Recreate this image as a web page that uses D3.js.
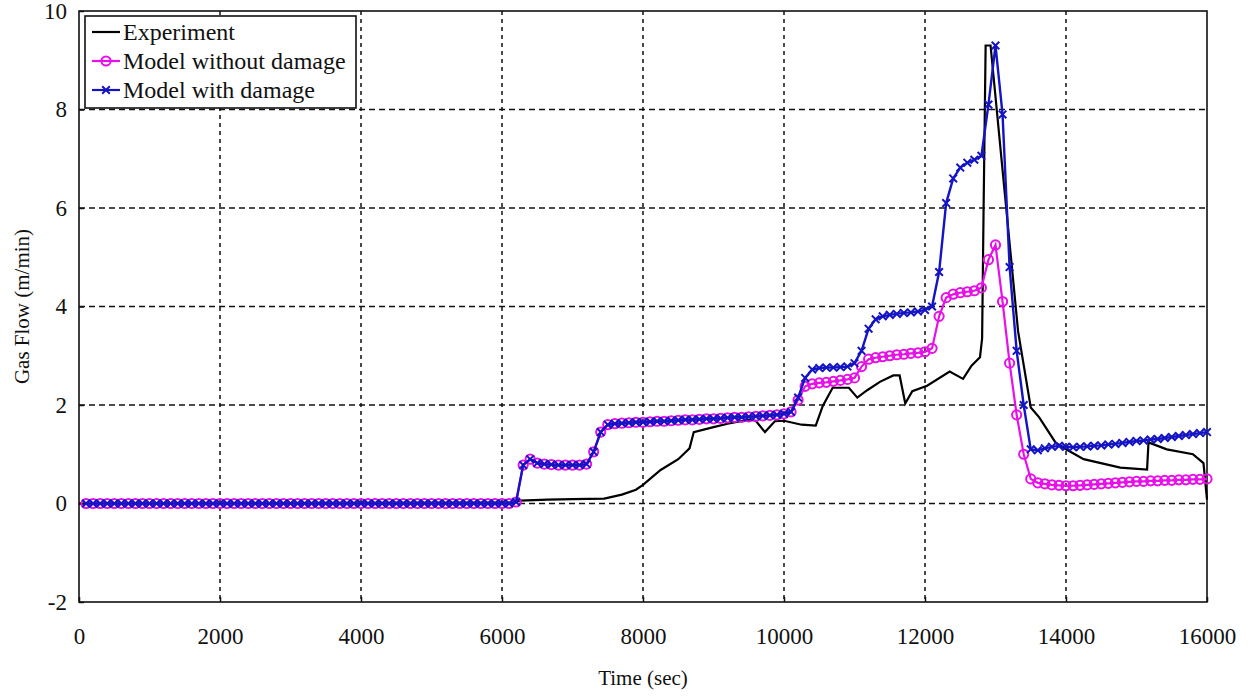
<!DOCTYPE html>
<html>
<head>
<meta charset="utf-8">
<script src="https://cdn.jsdelivr.net/npm/d3@7"></script>
<style>
  html, body { margin: 0; padding: 0; background: #fff; }
  svg { display: block; }
  text { font-family: "Liberation Serif", "Times New Roman", serif; fill: #111; }
</style>
</head>
<body>
<svg id="chart" width="1250" height="696"></svg>
<script>
// Axis ticks
const xTicks = [0, 2000, 4000, 6000, 8000, 10000, 12000, 14000, 16000];
const yTicks = [-2, 0, 2, 4, 6, 8, 10];

// Measured gas flow (time, value)
const expTime = [0, 6200, 6250, 6650, 7000, 7450, 7700, 7900, 8000, 8250, 8500, 8660, 8720, 9000, 9200, 9500, 9600, 9730, 9870, 10000,
  10250, 10450, 10550, 10690, 10920, 11040, 11180, 11360, 11550, 11640, 11720, 11820, 12030, 12350, 12540, 12660, 12780, 12810, 12830, 12860,
  12930, 13320, 13500, 13620, 13850, 14000, 14250, 14770, 15150, 15170, 15430, 15800, 15950, 16000];
const expValue = [0, 0.02, 0.06, 0.08, 0.09, 0.1, 0.18, 0.28, 0.38, 0.68, 0.9, 1.12, 1.45, 1.55, 1.62, 1.7, 1.68, 1.45, 1.67, 1.68,
  1.6, 1.58, 1.98, 2.35, 2.35, 2.15, 2.3, 2.47, 2.6, 2.6, 2.03, 2.28, 2.39, 2.68, 2.53, 2.8, 2.97, 3.35, 5.85, 9.3,
  9.3, 3.5, 1.95, 1.75, 1.24, 1.1, 0.9, 0.73, 0.69, 1.24, 1.1, 1.0, 0.82, 0.08];

// Model sample times (sec)
const modelTime = [
  100, 200, 300, 400, 500, 600, 700, 800, 900, 1000, 1100, 1200, 1300, 1400, 1500, 1600, 1700, 1800, 1900, 2000,
  2100, 2200, 2300, 2400, 2500, 2600, 2700, 2800, 2900, 3000, 3100, 3200, 3300, 3400, 3500, 3600, 3700, 3800, 3900, 4000,
  4100, 4200, 4300, 4400, 4500, 4600, 4700, 4800, 4900, 5000, 5100, 5200, 5300, 5400, 5500, 5600, 5700, 5800, 5900, 6000,
  6100, 6200, 6300, 6400, 6500, 6600, 6700, 6800, 6900, 7000, 7100, 7200, 7300, 7400, 7500, 7600, 7700, 7800, 7900, 8000,
  8100, 8200, 8300, 8400, 8500, 8600, 8700, 8800, 8900, 9000, 9100, 9200, 9300, 9400, 9500, 9600, 9700, 9800, 9900, 10000,
  10100, 10200, 10300, 10400, 10500, 10600, 10700, 10800, 10900, 11000, 11100, 11200, 11300, 11400, 11500, 11600, 11700, 11800, 11900, 12000,
  12100, 12200, 12300, 12400, 12500, 12600, 12700, 12800, 12900, 13000, 13100, 13200, 13300, 13400, 13500, 13600, 13700, 13800, 13900, 14000,
  14100, 14200, 14300, 14400, 14500, 14600, 14700, 14800, 14900, 15000, 15100, 15200, 15300, 15400, 15500, 15600, 15700, 15800, 15900, 16000];

// Model without damage
const noDamage = [
  0, 0, 0, 0, 0, 0, 0, 0, 0, 0, 0, 0, 0, 0, 0, 0, 0, 0, 0, 0,
  0, 0, 0, 0, 0, 0, 0, 0, 0, 0, 0, 0, 0, 0, 0, 0, 0, 0, 0, 0,
  0, 0, 0, 0, 0, 0, 0, 0, 0, 0, 0, 0, 0, 0, 0, 0, 0, 0, 0, 0,
  0, 0.03, 0.78, 0.9, 0.82, 0.8, 0.79, 0.78, 0.78, 0.78, 0.78, 0.8, 1.05, 1.45, 1.6, 1.62, 1.63, 1.64, 1.65, 1.65,
  1.66, 1.67, 1.67, 1.68, 1.69, 1.7, 1.7, 1.71, 1.72, 1.72, 1.73, 1.74, 1.75, 1.75, 1.76, 1.77, 1.78, 1.79, 1.8, 1.82,
  1.86, 2.1, 2.38, 2.43, 2.45, 2.46, 2.48, 2.5, 2.52, 2.55, 2.78, 2.93, 2.96, 2.98, 3.0, 3.02, 3.03, 3.05, 3.06, 3.08,
  3.15, 3.8, 4.18, 4.25, 4.28, 4.3, 4.32, 4.38, 4.95, 5.25, 4.1, 2.85, 1.8, 1.0, 0.5, 0.42, 0.4, 0.38, 0.37, 0.36,
  0.36, 0.37, 0.38, 0.39, 0.4, 0.41, 0.42, 0.43, 0.44, 0.45, 0.45, 0.46, 0.46, 0.47, 0.47, 0.48, 0.48, 0.49, 0.49, 0.5];

// Model with damage
const withDamage = [
  0, 0, 0, 0, 0, 0, 0, 0, 0, 0, 0, 0, 0, 0, 0, 0, 0, 0, 0, 0,
  0, 0, 0, 0, 0, 0, 0, 0, 0, 0, 0, 0, 0, 0, 0, 0, 0, 0, 0, 0,
  0, 0, 0, 0, 0, 0, 0, 0, 0, 0, 0, 0, 0, 0, 0, 0, 0, 0, 0, 0,
  0, 0.03, 0.78, 0.9, 0.82, 0.8, 0.79, 0.78, 0.78, 0.78, 0.78, 0.8, 1.05, 1.45, 1.6, 1.62, 1.63, 1.64, 1.65, 1.65,
  1.66, 1.67, 1.67, 1.68, 1.69, 1.7, 1.7, 1.71, 1.72, 1.72, 1.73, 1.74, 1.75, 1.75, 1.76, 1.77, 1.78, 1.79, 1.8, 1.82,
  1.86, 2.15, 2.55, 2.72, 2.75, 2.76, 2.76, 2.77, 2.78, 2.85, 3.1, 3.55, 3.74, 3.8, 3.83, 3.85, 3.87, 3.88, 3.9, 3.93,
  4.0, 4.7, 6.1, 6.6, 6.82, 6.92, 6.98, 7.06, 8.1, 9.3, 7.9, 4.8, 3.1, 2.0, 1.1, 1.08, 1.12, 1.15, 1.17, 1.15,
  1.14, 1.15, 1.16, 1.17, 1.18, 1.2, 1.21, 1.23, 1.25, 1.27, 1.28, 1.3, 1.31, 1.33, 1.35, 1.37, 1.39, 1.41, 1.43, 1.45];

const legendLabels = ["Experiment", "Model without damage", "Model with damage"];
const colors = { exp: "#000000", noDamage: "#e810e8", withDamage: "#1414c4" };

const svg = d3.select("#chart");
const plot = { left: 79, right: 1207, top: 11, bottom: 602 };

const x = d3.scaleLinear().domain([0, 16000]).range([plot.left, plot.right]);
const y = d3.scaleLinear().domain([-2, 10]).range([plot.bottom, plot.top]);

// Dashed grid
const grid = svg.append("g");
grid.selectAll("line.vg").data(xTicks.slice(1, -1)).join("line")
  .attr("x1", d => x(d)).attr("x2", d => x(d))
  .attr("y1", plot.top).attr("y2", plot.bottom)
  .attr("stroke", "#111").attr("stroke-width", 1.5).attr("stroke-dasharray", "4,4");
grid.selectAll("line.hg").data(yTicks.slice(1, -1)).join("line")
  .attr("x1", plot.left).attr("x2", plot.right)
  .attr("y1", d => y(d)).attr("y2", d => y(d))
  .attr("stroke", "#111").attr("stroke-width", 1.5).attr("stroke-dasharray", "6,4");

// Axes with inward ticks; plain hyphen for negative labels
const fmt = d => String(d);
const xAxis = d3.axisBottom(x).tickValues(xTicks).tickSize(-5).tickPadding(26).tickFormat(fmt);
const yAxis = d3.axisLeft(y).tickValues(yTicks).tickSize(-5).tickPadding(12).tickFormat(fmt);

const gx = svg.append("g").attr("transform", `translate(0,${plot.bottom})`).call(xAxis);
const gy = svg.append("g").attr("transform", `translate(${plot.left},0)`).call(yAxis);
[gx, gy].forEach(g => {
  g.select(".domain").remove();
  g.selectAll(".tick line").attr("stroke", "#111").attr("stroke-width", 1.5);
  g.selectAll(".tick text").attr("font-family", "Liberation Serif, serif").attr("font-size", 23).attr("fill", "#111");
});

// Frame
svg.append("rect")
  .attr("x", plot.left).attr("y", plot.top)
  .attr("width", plot.right - plot.left).attr("height", plot.bottom - plot.top)
  .attr("fill", "none").attr("stroke", "#111").attr("stroke-width", 1.6);

// Axis titles
svg.append("text").attr("x", (plot.left + plot.right) / 2).attr("y", 685)
  .attr("text-anchor", "middle").attr("font-size", 21).text("Time (sec)");
svg.append("text")
  .attr("transform", `translate(29,${(plot.top + plot.bottom) / 2}) rotate(-90)`)
  .attr("text-anchor", "middle").attr("font-size", 21).text("Gas Flow (m/min)");

// Series
const marks = svg.append("g");
const line = d3.line().x(d => x(d[0])).y(d => y(d[1]));

const expPts = expTime.map((t, i) => [t, expValue[i]]);
const noDmgPts = modelTime.map((t, i) => [t, noDamage[i]]);
const dmgPts = modelTime.map((t, i) => [t, withDamage[i]]);

marks.append("path").datum(expPts).attr("d", line)
  .attr("fill", "none").attr("stroke", colors.exp).attr("stroke-width", 2.2);

const circleR = 4.6;
marks.append("path").datum(noDmgPts).attr("d", line)
  .attr("fill", "none").attr("stroke", colors.noDamage).attr("stroke-width", 2.2);
marks.selectAll("circle.nd").data(noDmgPts).join("circle")
  .attr("cx", d => x(d[0])).attr("cy", d => y(d[1])).attr("r", circleR)
  .attr("fill", "none").attr("stroke", colors.noDamage).attr("stroke-width", 2);

const cross = 3.8;
const crossPath = (cx, cy) =>
  `M${cx - cross},${cy - cross}L${cx + cross},${cy + cross}M${cx - cross},${cy + cross}L${cx + cross},${cy - cross}`;
marks.append("path").datum(dmgPts).attr("d", line)
  .attr("fill", "none").attr("stroke", colors.withDamage).attr("stroke-width", 2.4);
marks.selectAll("path.wd").data(dmgPts).join("path")
  .attr("d", d => crossPath(x(d[0]), y(d[1])))
  .attr("fill", "none").attr("stroke", colors.withDamage).attr("stroke-width", 2);

// Legend
const lg = svg.append("g");
lg.append("rect").attr("x", 85).attr("y", 16).attr("width", 271).attr("height", 92)
  .attr("fill", "#fff").attr("stroke", "#111").attr("stroke-width", 1.6);
const rows = [
  { label: legendLabels[0], color: colors.exp, marker: null },
  { label: legendLabels[1], color: colors.noDamage, marker: "circle" },
  { label: legendLabels[2], color: colors.withDamage, marker: "cross" }
];
rows.forEach((r, i) => {
  const cy = 32 + i * 29;
  lg.append("line").attr("x1", 92).attr("x2", 120).attr("y1", cy).attr("y2", cy)
    .attr("stroke", r.color).attr("stroke-width", 2.2);
  if (r.marker === "circle") {
    lg.append("circle").attr("cx", 106).attr("cy", cy).attr("r", circleR)
      .attr("fill", "none").attr("stroke", r.color).attr("stroke-width", 2);
  } else if (r.marker === "cross") {
    lg.append("path").attr("d", crossPath(106, cy))
      .attr("stroke", r.color).attr("stroke-width", 2);
  }
  lg.append("text").attr("x", 123).attr("y", cy).attr("dy", "0.33em")
    .attr("font-size", 24).text(r.label);
});
</script>
</body>
</html>
